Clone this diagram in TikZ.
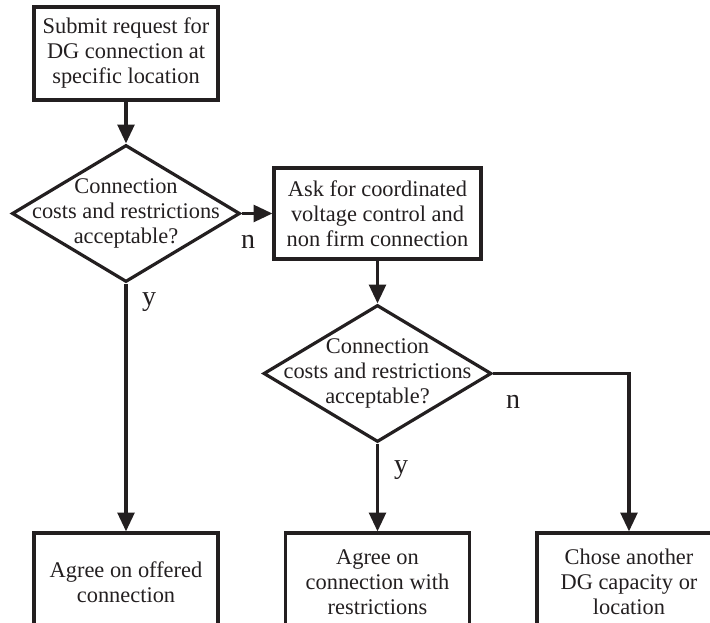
\documentclass[tikz,border=0pt]{standalone}
\usepackage{fontspec}
\setmainfont{Liberation Serif}
\usetikzlibrary{shapes.geometric,arrows.meta}

\definecolor{fcLine}{HTML}{231F20}
\definecolor{fcText}{HTML}{231F20}

\tikzset{
  fcbox/.style={draw=fcLine,line width=2.4pt,rectangle,align=center,inner sep=0pt,
                text=fcText,minimum width=138pt},
  fcdecision/.style={draw=fcLine,line width=2.4pt,diamond,inner sep=0pt,
                minimum width=171pt,minimum height=102.75pt},
  fcarrow/.style={draw=fcLine,line width=2.4pt,-{Triangle[length=14pt,width=12.5pt]}},
  fcanswer/.style={text=fcText,inner sep=0pt,font=\fontsize{21pt}{24pt}\selectfont}
}

\begin{document}
\begin{tikzpicture}[x=0.75pt,y=0.75pt,
    font=\fontsize{16.8pt}{18.75pt}\selectfont]
  \useasboundingbox (0,0) rectangle (710,623);
  \clip (0,0) rectangle (710,623);

  % ---- boxes ----
  \node[fcbox,minimum height=69.75pt] (request) at (126,569.5)
        {Submit request for\\DG connection at\\specific location};
  \node[fcbox,minimum width=155.25pt,minimum height=68.25pt] (askvc) at (377.5,409.5)
        {Ask for coordinated\\voltage control and\\non firm connection};
  \node[fcbox,minimum height=73.5pt] (agreeoff) at (126,41)
        {Agree on offered\\connection};
  \node[fcbox,minimum height=73.5pt] (agreerst) at (377.5,41)
        {Agree on\\connection with\\restrictions};
  \node[fcbox,minimum height=73.5pt] (another) at (629,41)
        {Chose another\\DG capacity or\\location};

  % ---- decisions ----
  \node[fcdecision,label={[align=center,text=fcText]center:Connection\\costs and restrictions\\acceptable?}]
        (check1) at (126,409.5) {};
  \node[fcdecision,label={[align=center,text=fcText]center:Connection\\costs and restrictions\\acceptable?}]
        (check2) at (377.5,249.5) {};

  % ---- connectors ----
  \draw[fcarrow] (request.south) -- (check1.north);
  \draw[fcarrow] (check1.east)   -- (askvc.west);
  \draw[fcarrow] (askvc.south)   -- (check2.north);
  \draw[fcarrow] (check1.south)  -- (agreeoff.north);
  \draw[fcarrow] (check2.south)  -- (agreerst.north);
  \draw[fcarrow] (check2.east)   -| (another.north);

  % ---- answers ----
  \node[fcanswer] (no1)  at (248,381) {n};
  \node[fcanswer] (yes1) at (149,321) {y};
  \node[fcanswer] (no2)  at (513,221) {n};
  \node[fcanswer] (yes2) at (401,153) {y};
\end{tikzpicture}
\end{document}
